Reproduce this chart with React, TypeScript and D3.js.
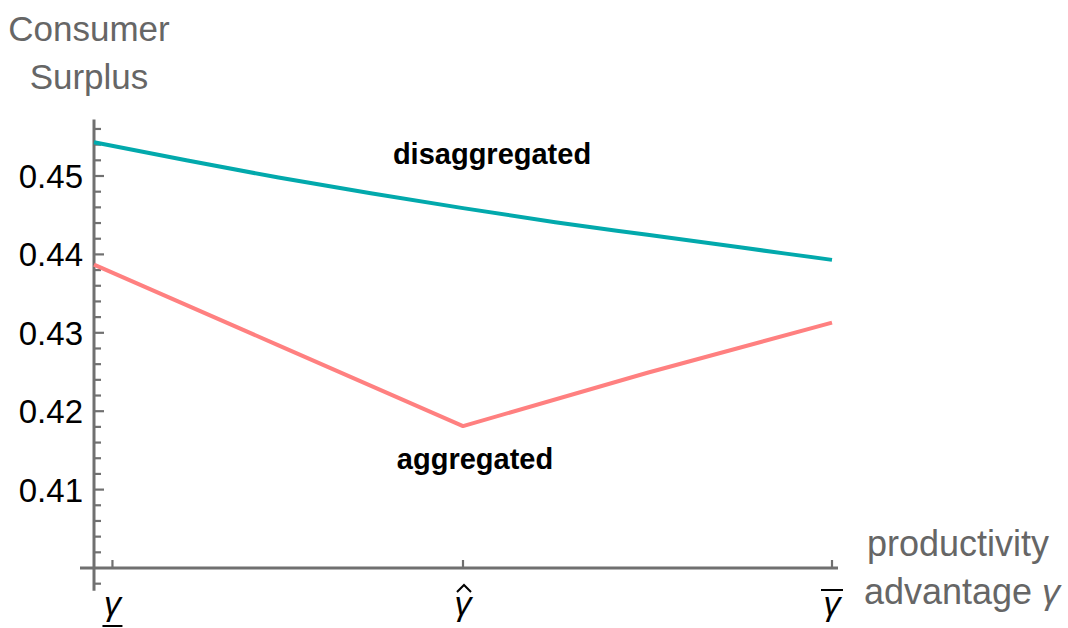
import React, { useRef, useEffect } from 'react';
import * as d3 from 'd3';

// productivity advantage (gamma) values where the curves were read
const gammaDis = [1.0, 1.125, 1.25, 1.375, 1.5, 1.625, 1.75, 1.875, 2.0];
const surplusDis = [0.4543, 0.4520, 0.4498, 0.4478, 0.4459, 0.4441, 0.4425, 0.4409, 0.4393];

const gammaAgg = [1.0, 1.25, 1.5, 1.75, 2.0];
const surplusAgg = [0.4387, 0.4284, 0.4181, 0.4249, 0.4313];

// y ticks
const majorTicks = [0.41, 0.42, 0.43, 0.44, 0.45];
const minorTicks = d3.range(0.398, 0.4565, 0.002);

// x ticks: gamma lower, gamma hat, gamma upper
const xTickValues = [1.025, 1.5, 2.0];
const xTickMarks = ['under', 'hat', 'over'];

const axisColor = '#707070';
const labelColor = '#666666';

export default function App() {
  const svgRef = useRef<SVGSVGElement | null>(null);

  useEffect(() => {
    document.body.style.margin = '0';
    const svg = d3.select(svgRef.current);
    svg.selectAll('*').remove();

    const x = d3.scaleLinear().domain([1, 2]).range([94, 832]);
    const y = d3.scaleLinear().domain([0.4, 0.45]).range([568, 176]);

    const font = "'Liberation Sans', Arial, sans-serif";

    // y axis line
    svg.append('line')
      .attr('x1', x(1)).attr('x2', x(1))
      .attr('y1', y(0.4572)).attr('y2', y(0.3971))
      .attr('stroke', axisColor).attr('stroke-width', 3);

    // x axis line
    svg.append('line')
      .attr('x1', 80).attr('x2', 838)
      .attr('y1', y(0.4)).attr('y2', y(0.4))
      .attr('stroke', axisColor).attr('stroke-width', 3);

    // minor ticks
    svg.append('g').selectAll('line')
      .data(minorTicks.filter(t => Math.abs(t - 0.4) > 1e-6 && !majorTicks.some(m => Math.abs(m - t) < 1e-6)))
      .enter().append('line')
      .attr('x1', x(1)).attr('x2', x(1) + 7)
      .attr('y1', d => y(d)).attr('y2', d => y(d))
      .attr('stroke', axisColor).attr('stroke-width', 2.2);

    // major ticks + labels
    const mg = svg.append('g').selectAll('g')
      .data(majorTicks).enter().append('g');
    mg.append('line')
      .attr('x1', x(1)).attr('x2', x(1) + 10)
      .attr('y1', d => y(d)).attr('y2', d => y(d))
      .attr('stroke', axisColor).attr('stroke-width', 2.2);
    mg.append('text')
      .attr('x', 83).attr('y', d => y(d) + 12)
      .attr('text-anchor', 'end')
      .attr('font-family', font).attr('font-size', 33)
      .attr('fill', '#000')
      .text(d => d3.format('.2f')(d));

    // x ticks
    const xg = svg.append('g').selectAll('g')
      .data(xTickValues.map((v, i) => ({ v, mark: xTickMarks[i] })))
      .enter().append('g')
      .attr('transform', d => `translate(${x(d.v)},0)`);
    xg.append('line')
      .attr('x1', 0).attr('x2', 0)
      .attr('y1', y(0.4)).attr('y2', y(0.4) - 8)
      .attr('stroke', axisColor).attr('stroke-width', 2.2);
    xg.append('text')
      .attr('x', 0).attr('y', 615)
      .attr('text-anchor', 'middle')
      .attr('font-family', font).attr('font-size', 34)
      .attr('font-style', 'italic')
      .attr('fill', '#000')
      .text('γ');
    xg.filter(d => d.mark === 'under').append('line')
      .attr('x1', -10).attr('x2', 10).attr('y1', 626).attr('y2', 626)
      .attr('stroke', '#000').attr('stroke-width', 2);
    xg.filter(d => d.mark === 'over').append('line')
      .attr('x1', -11).attr('x2', 11).attr('y1', 590).attr('y2', 590)
      .attr('stroke', '#000').attr('stroke-width', 2);
    xg.filter(d => d.mark === 'hat').append('path')
      .attr('d', 'M-6,592 L1,585 L8,592')
      .attr('fill', 'none').attr('stroke', '#000').attr('stroke-width', 2);

    // curves
    const line = d3.line<number>()
      .x((_, i) => x(gammaDis[i]))
      .y(d => y(d))
      .curve(d3.curveMonotoneX);
    svg.append('path')
      .attr('d', line(surplusDis))
      .attr('fill', 'none').attr('stroke', '#02A9AC').attr('stroke-width', 4);

    const lineAgg = d3.line<number>()
      .x((_, i) => x(gammaAgg[i]))
      .y(d => y(d));
    svg.append('path')
      .attr('d', lineAgg(surplusAgg))
      .attr('fill', 'none').attr('stroke', '#FF8080').attr('stroke-width', 4)
      .attr('stroke-linejoin', 'round');

    // curve labels
    svg.append('text')
      .attr('x', 492).attr('y', 164)
      .attr('text-anchor', 'middle')
      .attr('font-family', font).attr('font-size', 29).attr('font-weight', 'bold')
      .text('disaggregated');
    svg.append('text')
      .attr('x', 475).attr('y', 469)
      .attr('text-anchor', 'middle')
      .attr('font-family', font).attr('font-size', 29).attr('font-weight', 'bold')
      .text('aggregated');

    // axis titles
    const yt = svg.append('text')
      .attr('text-anchor', 'middle')
      .attr('font-family', font).attr('font-size', 35)
      .attr('fill', labelColor);
    yt.append('tspan').attr('x', 89).attr('y', 41).text('Consumer');
    yt.append('tspan').attr('x', 89).attr('y', 89).text('Surplus');

    const xt = svg.append('text')
      .attr('text-anchor', 'middle')
      .attr('font-family', font).attr('font-size', 36)
      .attr('fill', labelColor);
    xt.append('tspan').attr('x', 958).attr('y', 556).text('productivity');
    const l2 = xt.append('tspan').attr('x', 962).attr('y', 604);
    l2.append('tspan').text('advantage ');
    l2.append('tspan').attr('font-style', 'italic').text('γ');
  }, []);

  return (
    <div style={{ position: 'absolute', left: 0, top: 0 }}>
      <svg ref={svgRef} width={1068} height={628} style={{ display: 'block', background: '#fff' }} />
    </div>
  );
}
